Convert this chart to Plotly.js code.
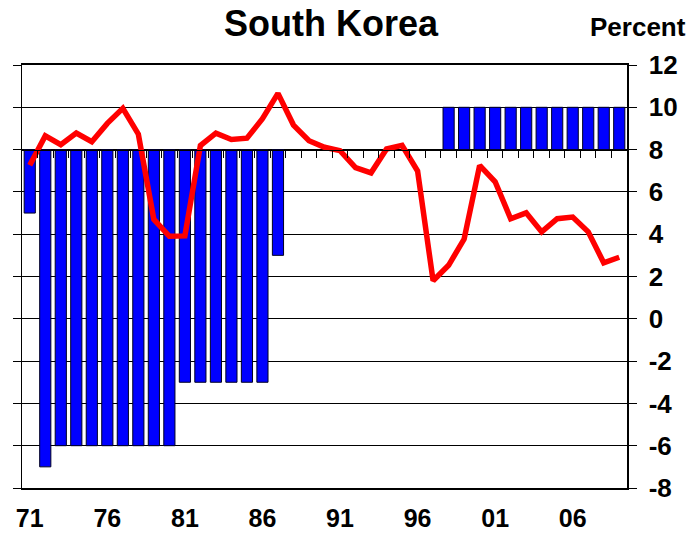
<!DOCTYPE html>
<html>
<head>
<meta charset="utf-8">
<script src="https://cdn.plot.ly/plotly-3.0.1.min.js"></script>
<style>html,body{margin:0;padding:0;background:#fff;}#chart{width:691px;height:533px;}</style>
</head>
<body>
<div id="chart"></div>
<script>
var years = [];
for (var yr = 1971; yr <= 2009; yr++) years.push(yr);

var barLevels = [5, -7, -6, -6, -6, -6, -6, -6, -6, -6,
                 -3, -3, -3, -3, -3, -3, 3,
                 null, null, null, null, null, null, null, null, null, null,
                 10, 10, 10, 10, 10, 10, 10, 10, 10, 10, 10, 10];
var barBase = 8;

var lineValues = [7.26, 8.65, 8.23, 8.78, 8.37, 9.24, 9.95, 8.73, 4.70, 3.90,
                  3.92, 8.19, 8.78, 8.48, 8.54, 9.46, 10.66, 9.16, 8.42, 8.11,
                  7.95, 7.15, 6.90, 8.03, 8.20, 6.99, 1.80, 2.53, 3.77, 7.25,
                  6.48, 4.73, 5.01, 4.11, 4.73, 4.81, 4.11, 2.65, 2.91];

var tickYears = [1971, 1976, 1981, 1986, 1991, 1996, 2001, 2006];
var tickLabels = ['71', '76', '81', '86', '91', '96', '01', '06'];

var yTickVals = [-8, -6, -4, -2, 0, 2, 4, 6, 8, 10, 12];
var yTickLabels = ['-8', '-6', '-4', '-2', '0', '2', '4', '6', '8', '10', '12'];

var boundaries = [];
for (var b = 1971.5; b < 2009; b++) boundaries.push(b);

var FONT = 'Arial, "Liberation Sans", sans-serif';

var bars = {
  type: 'bar',
  x: years,
  y: barLevels.map(function (v) { return v === null ? null : v - barBase; }),
  base: barBase,
  width: 0.72,
  marker: {color: '#0000FF', line: {color: '#000022', width: 1}},
  xaxis: 'x', yaxis: 'y',
  hoverinfo: 'skip'
};

var line = {
  type: 'scatter',
  mode: 'lines',
  x: years,
  y: lineValues,
  line: {color: '#FF0000', width: 5.5},
  xaxis: 'x2', yaxis: 'y',
  hoverinfo: 'skip'
};

var layout = {
  width: 691, height: 533,
  margin: {l: 22, r: 64, t: 65, b: 45},
  paper_bgcolor: '#ffffff', plot_bgcolor: '#ffffff',
  showlegend: false,
  title: {
    text: '<b>South Korea</b>',
    font: {family: FONT, size: 36, color: '#000'},
    x: 0.479, xref: 'container', xanchor: 'center',
    y: 0.957, yref: 'container', yanchor: 'middle'
  },
  xaxis: {
    range: [1970.5, 2009.5],
    tickmode: 'array', tickvals: tickYears, ticktext: tickLabels,
    ticks: '', showgrid: false, zeroline: false,
    showline: true, linecolor: '#000', linewidth: 2, mirror: true,
    ticklabelstandoff: 7,
    tickfont: {family: FONT, size: 25, color: '#000', weight: 'bold'},
    fixedrange: true
  },
  xaxis2: {
    overlaying: 'x', anchor: 'free', position: 0.8, side: 'bottom',
    range: [1970.5, 2009.5],
    tickmode: 'array', tickvals: boundaries,
    ticks: 'outside', ticklen: 7, tickwidth: 1, tickcolor: '#000',
    showticklabels: false, showgrid: false, zeroline: false,
    showline: true, linecolor: '#000', linewidth: 1.5,
    fixedrange: true
  },
  yaxis: {
    range: [-8, 12], side: 'right',
    tickmode: 'array', tickvals: yTickVals, ticktext: yTickLabels,
    showgrid: true, gridcolor: '#000', gridwidth: 1,
    zeroline: false,
    showline: true, linecolor: '#000', linewidth: 1.5, mirror: 'ticks',
    ticks: 'outside', ticklen: 8, tickwidth: 1, tickcolor: '#000',
    ticklabelstandoff: 7,
    tickfont: {family: FONT, size: 26, color: '#000', weight: 'bold'},
    fixedrange: true
  },
  annotations: [{
    text: '<b>Percent</b>',
    xref: 'paper', yref: 'paper',
    x: 1.018, y: 1.09, xanchor: 'center', yanchor: 'middle',
    showarrow: false,
    font: {family: FONT, size: 26, color: '#000'}
  }]
};

Plotly.newPlot('chart', [bars, line], layout, {staticPlot: true, displayModeBar: false});
</script>
</body>
</html>
